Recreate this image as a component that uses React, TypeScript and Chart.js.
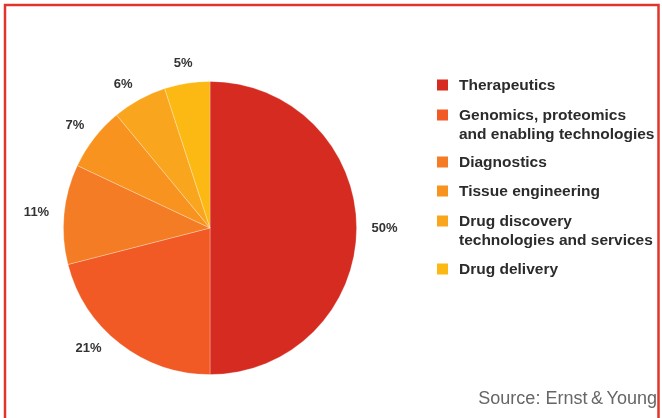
import React, { useEffect, useRef } from "react";
import { Chart, registerables } from "chart.js";

Chart.register(...registerables);

const categories: string[][] = [
  ["Therapeutics"],
  ["Genomics, proteomics", "and enabling technologies"],
  ["Diagnostics"],
  ["Tissue engineering"],
  ["Drug discovery", "technologies and services"],
  ["Drug delivery"],
];
const shares: number[] = [50, 21, 11, 7, 6, 5];
const colors: string[] = ["#d52b20", "#f15a24", "#f47c24", "#f7931e", "#f9a61e", "#fdb913"];
const sourceText = "Source: Ernst\u2009&\u2009Young";

const FONT = "Liberation Sans, Arial, Helvetica, sans-serif";

const decorPlugin = {
  id: "decor",
  afterDraw(chart: any) {
    const ctx = chart.ctx;
    ctx.save();
    // frame
    ctx.strokeStyle = "#e0342c";
    ctx.lineWidth = 2.5;
    ctx.strokeRect(5, 5, 653.5, 440);

    // percentage labels placed just outside the rim
    const meta = chart.getDatasetMeta(0);
    const nudge = [0, 0.11, 0, 0, -0.03, 0];
    ctx.fillStyle = "#333333";
    ctx.font = `bold 13px ${FONT}`;
    ctx.textAlign = "center";
    ctx.textBaseline = "middle";
    meta.data.forEach((arc: any, i: number) => {
      const p = arc.getProps(["x", "y", "startAngle", "endAngle", "outerRadius"], true);
      const mid = (p.startAngle + p.endAngle) / 2 + nudge[i];
      const dx = Math.cos(mid);
      const dy = Math.sin(mid);
      const txt = shares[i] + "%";
      const hw = ctx.measureText(txt).width / 2;
      const r = p.outerRadius + 15;
      ctx.fillText(txt, p.x + dx * r + dx * hw, p.y + dy * r + dy * 5.5);
    });

    // legend
    const boxX = 437;
    const textX = 459;
    const baselines = [90, 120, 167, 196, 226, 274];
    ctx.textAlign = "left";
    ctx.textBaseline = "alphabetic";
    ctx.font = `bold 15.5px ${FONT}`;
    categories.forEach((lines, i) => {
      ctx.fillStyle = colors[i];
      ctx.fillRect(boxX, baselines[i] - 10.5, 11, 11);
      ctx.fillStyle = "#2b2b2b";
      lines.forEach((t, j) => ctx.fillText(t, textX, baselines[i] + j * 19));
    });

    // source
    ctx.fillStyle = "#666666";
    ctx.font = `18px ${FONT}`;
    ctx.textAlign = "right";
    ctx.fillText(sourceText, 657, 404);
    ctx.restore();
  },
};

export default function App() {
  const ref = useRef<HTMLCanvasElement>(null);
  useEffect(() => {
    const chart = new Chart(ref.current!, {
      type: "pie",
      data: {
        labels: categories.map((c) => c.join(" ")),
        datasets: [
          {
            data: shares,
            backgroundColor: colors,
            borderColor: "rgba(255,255,255,0.35)",
            borderWidth: 0.8,
          },
        ],
      },
      options: {
        responsive: false,
        animation: false,
        layout: { padding: { left: 63, right: 305, top: 81, bottom: 43 } },
        plugins: { legend: { display: false }, tooltip: { enabled: false } },
      },
      plugins: [decorPlugin],
    });
    return () => chart.destroy();
  }, []);
  return (
    <div style={{ position: "fixed", left: 0, top: 0, width: 662, height: 418, background: "#fff" }}>
      <canvas ref={ref} width={662} height={418} style={{ display: "block" }} />
    </div>
  );
}
